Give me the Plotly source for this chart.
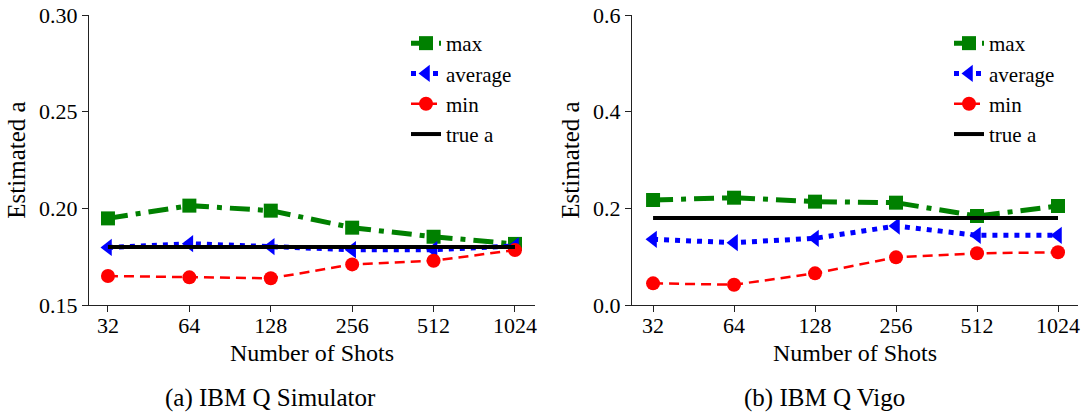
import plotly.graph_objects as go

# ---------------- data ----------------
shots = ["32", "64", "128", "256", "512", "1024"]

sim_max = [0.1948, 0.2014, 0.1988, 0.1900, 0.1853, 0.1816]
sim_avg = [0.1798, 0.1817, 0.1802, 0.1786, 0.1786, 0.1805]
sim_min = [0.1650, 0.1643, 0.1638, 0.1710, 0.1729, 0.1784]
sim_true = [0.18, 0.18, 0.18, 0.18, 0.18, 0.18]

vigo_max = [0.2172, 0.2220, 0.2138, 0.2117, 0.1841, 0.2048]
vigo_avg = [0.1359, 0.1290, 0.1380, 0.1634, 0.1441, 0.1441]
vigo_min = [0.0448, 0.0420, 0.0655, 0.0986, 0.1070, 0.1090]
vigo_true = [0.18, 0.18, 0.18, 0.18, 0.18, 0.18]

series_names = ["max", "average", "min", "true a"]
captions = ["(a) IBM Q Simulator", "(b) IBM Q Vigo"]

# ---------------- styling ----------------
W, H = 1088, 415
SERIF = "serif"

styles = {
    "max": dict(color="#008000", width=5, dash="20px,8px,5px,8px", symbol="square", size=14),
    "average": dict(color="#0000ff", width=5, dash="5px,6px", symbol="triangle-left", size=15),
    "min": dict(color="#ff0000", width=2.5, dash="10px,6px", symbol="circle", size=14),
    "true a": dict(color="#000000", width=4, dash="solid", symbol=None, size=0),
}

fig = go.Figure()


def add_panel(values, xa, ya, legend):
    for name, vals in zip(series_names, values):
        s = styles[name]
        mode = "lines+markers" if s["symbol"] else "lines"
        kw = dict(
            x=shots, y=vals, name=name, mode=mode,
            line=dict(color=s["color"], width=s["width"], dash=s["dash"]),
            xaxis=xa, yaxis=ya, legend=legend, showlegend=True,
        )
        if s["symbol"]:
            kw["marker"] = dict(symbol=s["symbol"], size=s["size"], color=s["color"],
                                line=dict(width=0))
        fig.add_trace(go.Scatter(**kw))


add_panel([sim_max, sim_avg, sim_min, sim_true], "x", "y", "legend")
add_panel([vigo_max, vigo_avg, vigo_min, vigo_true], "x2", "y2", "legend2")

ydom = [1 - 305 / H, 1 - 15 / H]
axis_common = dict(
    showline=True, linecolor="#222", linewidth=1.2, mirror=False,
    ticks="outside", ticklen=6, tickwidth=1.2, tickcolor="#222",
    showgrid=False, zeroline=False, automargin=False,
    tickfont=dict(family=SERIF, size=22),
)
xtitle = dict(text="Number of Shots", font=dict(family=SERIF, size=24), standoff=7)
ytitle = dict(text="Estimated a", font=dict(family=SERIF, size=25), standoff=6)

fig.update_layout(
    template="none",
    width=W, height=H,
    margin=dict(l=0, r=0, t=0, b=0, autoexpand=False),
    paper_bgcolor="white", plot_bgcolor="white",
    font=dict(family=SERIF, color="black"),
    xaxis=dict(domain=[89 / W, 535 / W], anchor="y", type="category",
               range=[-0.233, 5.246], ticklabelstandoff=-6,
               title=xtitle, **axis_common),
    yaxis=dict(domain=ydom, anchor="x", range=[0.15, 0.30],
               tickvals=[0.15, 0.20, 0.25, 0.30], ticktext=["0.15", "0.20", "0.25", "0.30"],
               title=ytitle, **axis_common),
    xaxis2=dict(domain=[632 / W, 1078 / W], anchor="y2", type="category",
                range=[-0.26, 5.247], ticklabelstandoff=-6,
                title=xtitle, **axis_common),
    yaxis2=dict(domain=ydom, anchor="x2", range=[0.0, 0.6],
                tickvals=[0.0, 0.2, 0.4, 0.6], ticktext=["0.0", "0.2", "0.4", "0.6"],
                title=ytitle, **axis_common),
    legend=dict(x=406 / W, y=1 - 23 / H, xanchor="left", yanchor="top",
                bgcolor="rgba(0,0,0,0)", borderwidth=0,
                font=dict(family=SERIF, size=21), tracegroupgap=0),
    legend2=dict(x=949 / W, y=1 - 23 / H, xanchor="left", yanchor="top",
                 bgcolor="rgba(0,0,0,0)", borderwidth=0,
                 font=dict(family=SERIF, size=21), tracegroupgap=0),
)

for cx, text in zip([270, 824], captions):
    fig.add_annotation(x=cx / W, y=1 - 398 / H, xref="paper", yref="paper",
                       text=text, showarrow=False, xanchor="center", yanchor="middle",
                       font=dict(family=SERIF, size=25))

fig.write_html("out.html")
